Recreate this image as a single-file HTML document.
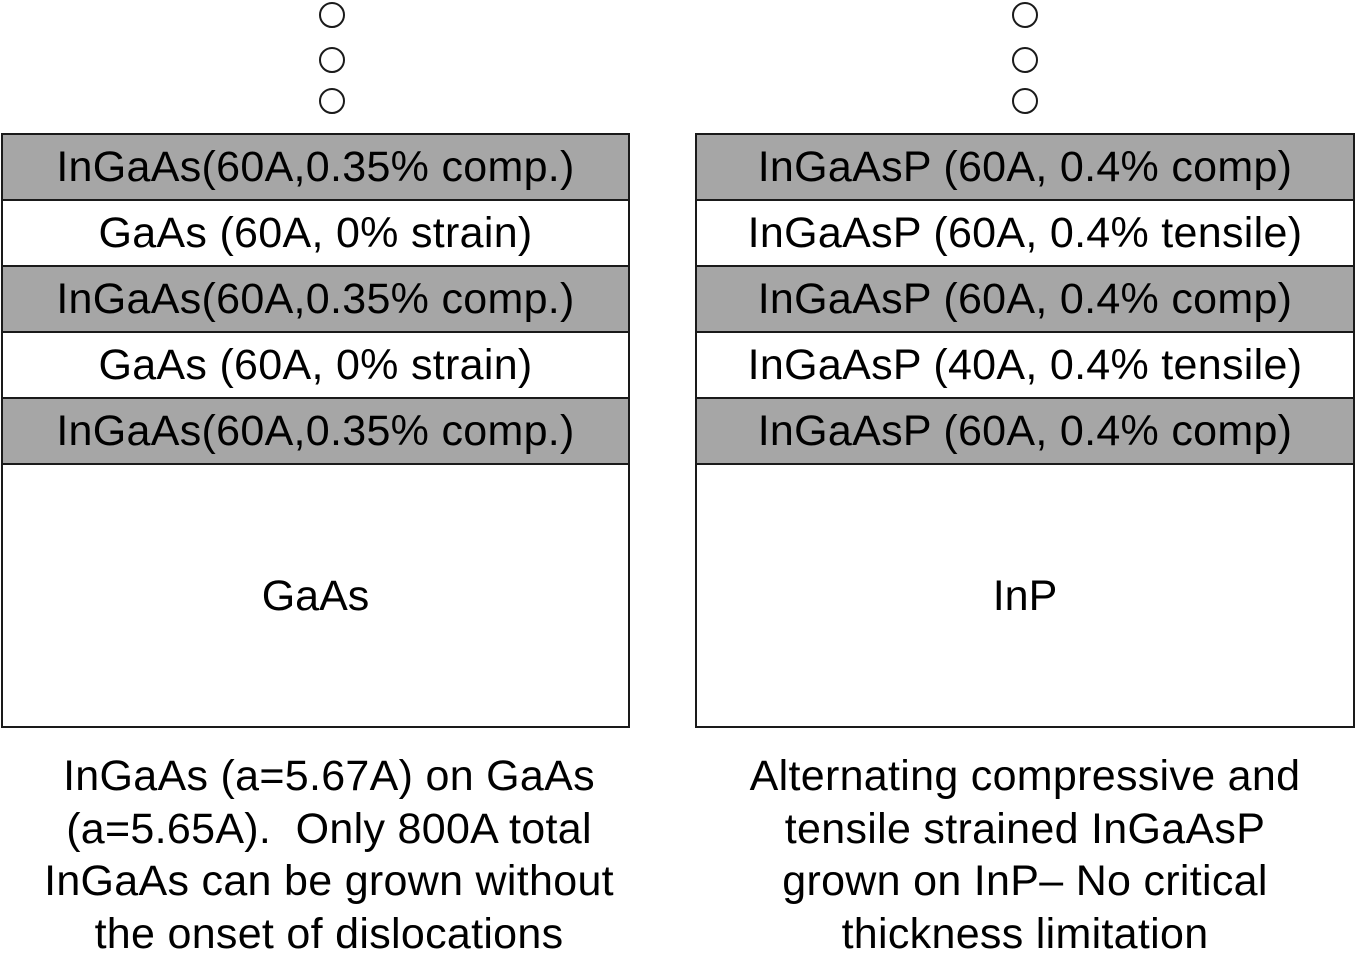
<!DOCTYPE html>
<html><head><meta charset="utf-8"><style>
body{margin:0;width:1358px;height:954px;background:#fff;position:relative;overflow:hidden;font-family:"Liberation Sans",sans-serif;color:#000}
.stack{position:absolute;top:133px;height:595px;border:2px solid #1a1a1a;box-sizing:border-box}
.layer{height:66px;box-sizing:border-box;border-bottom:2px solid #1a1a1a;display:flex;align-items:center;justify-content:center;font-size:43px;white-space:nowrap;letter-spacing:0.3px}
.g{background:#a6a6a6}
.sub{height:262px;display:flex;align-items:center;justify-content:center;font-size:43px}
.dot{position:absolute;width:26px;height:26px;border:2px solid #1a1a1a;border-radius:50%;box-sizing:border-box}
.cap{position:absolute;top:750px;font-size:43px;line-height:52.5px;text-align:center;white-space:nowrap;letter-spacing:0.3px}
</style></head><body>
<div class="dot" style="left:319px;top:2px"></div>
<div class="dot" style="left:319px;top:47px"></div>
<div class="dot" style="left:319px;top:88px"></div>
<div class="dot" style="left:1012px;top:2px"></div>
<div class="dot" style="left:1012px;top:47px"></div>
<div class="dot" style="left:1012px;top:88px"></div>
<div class="stack" style="left:1px;width:629px">
<div class="layer g">InGaAs(60A,0.35% comp.)</div>
<div class="layer">GaAs (60A, 0% strain)</div>
<div class="layer g">InGaAs(60A,0.35% comp.)</div>
<div class="layer">GaAs (60A, 0% strain)</div>
<div class="layer g">InGaAs(60A,0.35% comp.)</div>
<div class="sub">GaAs</div>
</div>
<div class="stack" style="left:695px;width:660px">
<div class="layer g">InGaAsP (60A, 0.4% comp)</div>
<div class="layer">InGaAsP (60A, 0.4% tensile)</div>
<div class="layer g">InGaAsP (60A, 0.4% comp)</div>
<div class="layer">InGaAsP (40A, 0.4% tensile)</div>
<div class="layer g">InGaAsP (60A, 0.4% comp)</div>
<div class="sub">InP</div>
</div>
<div class="cap" style="left:0;width:658px">InGaAs (a=5.67A) on GaAs<br>(a=5.65A).&nbsp; Only 800A total<br>InGaAs can be grown without<br>the onset of dislocations</div>
<div class="cap" style="left:690px;width:670px">Alternating compressive and<br>tensile strained InGaAsP<br>grown on InP– No critical<br>thickness limitation</div>
</body></html>
